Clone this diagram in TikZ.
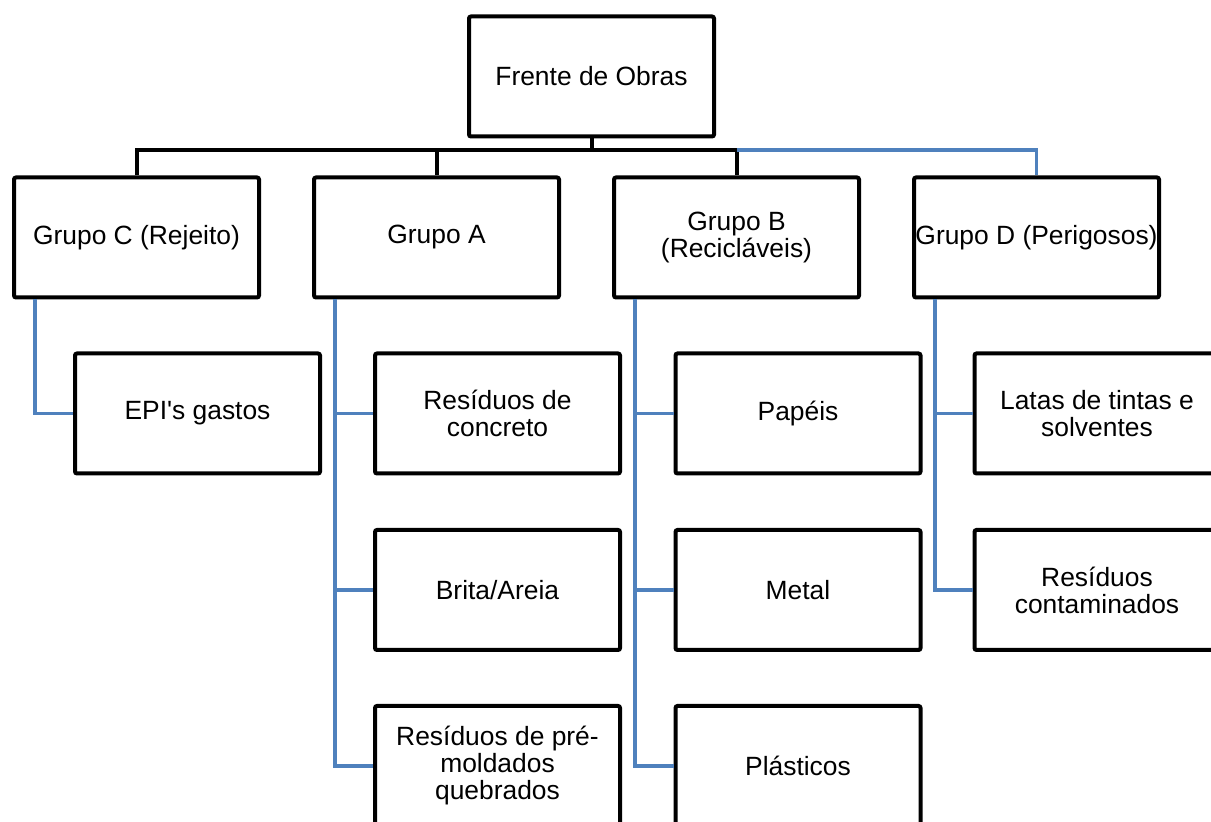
\documentclass[tikz,border=0pt]{standalone}
\usepackage{fontspec}
\setmainfont{Liberation Sans}
\usepackage{xcolor}
\usetikzlibrary{calc}
\definecolor{linkblue}{RGB}{79, 129, 189}

\begin{document}
\begin{tikzpicture}[x=0.5pt, y=-0.5pt,
    box/.style={draw=black, line width=2pt, rounded corners=1pt, fill=white,
        minimum width=122.5pt, minimum height=60pt, inner xsep=0pt,
        align=center, font=\fontsize{13.2}{13.5}\selectfont},
    blackline/.style={draw=black, line width=2pt},
    blueline/.style={draw=linkblue, line width=1.9pt}]
    \clip (0,0) rectangle (1211,822);

    % Top box and groups
    \node[box] (obras) at (591.5,76.5) {Frente de Obras};
    \node[box] (grupoC) at (136.5,237.5) {Grupo C (Rejeito)};
    \node[box] (grupoA) at (436.5,237.5) {Grupo A};
    \node[box] (grupoB) at (736.5,237.5) {Grupo B\\(Recicláveis)};
    \node[box] (grupoD) at (1036.5,237.5) {Grupo D (Perigosos)};

    % Waste items
    \node[box] (epi) at (197.5,413.5) {EPI\textquotesingle s gastos};
    \node[box] (concreto) at (497.5,413.5) {Resíduos de\\concreto};
    \node[box] (brita) at (497.5,590) {Brita/Areia};
    \node[box] (premold) at (497.5,766) {Resíduos de pré-\\moldados\\quebrados};
    \node[box] (papeis) at (798,413.5) {Papéis};
    \node[box] (metal) at (798,590) {Metal};
    \node[box] (plasticos) at (798,766) {Plásticos};
    \node[box] (latas) at (1097,413.5) {Latas de tintas e\\solventes};
    \node[box] (contam) at (1097,590) {Resíduos\\contaminados};

    % Bus under the top box
    \coordinate (bus) at (591.5,150);
    \draw[blackline] (obras.south) -- (obras.south |- bus);
    \draw[blackline] (grupoC.north) -- (grupoC.north |- bus) -- (grupoB.north |- bus) -- (grupoB.north);
    \draw[blackline] (grupoA.north |- bus) -- (grupoA.north);
    \draw[blueline] (grupoB.north |- bus) -- (grupoD.north |- bus) -- (grupoD.north);

    % Trunks down the left side of each group
    \coordinate (trunkC) at ($(grupoC.south west)+(23,0)$);
    \coordinate (trunkA) at ($(grupoA.south west)+(23,0)$);
    \coordinate (trunkB) at ($(grupoB.south west)+(23,0)$);
    \coordinate (trunkD) at ($(grupoD.south west)+(23,0)$);

    \draw[blueline] (trunkC) |- (epi.west);
    \foreach \item in {concreto, brita, premold}
        \draw[blueline] (trunkA) |- (\item.west);
    \foreach \item in {papeis, metal, plasticos}
        \draw[blueline] (trunkB) |- (\item.west);
    \foreach \item in {latas, contam}
        \draw[blueline] (trunkD) |- (\item.west);
\end{tikzpicture}
\end{document}
